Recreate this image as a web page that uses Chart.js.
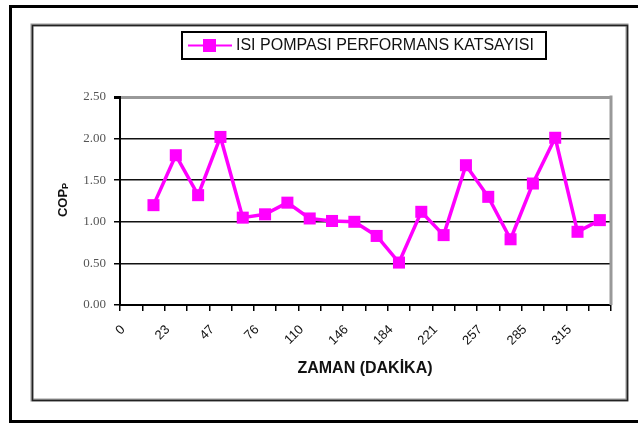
<!DOCTYPE html>
<html>
<head>
<meta charset="utf-8">
<script src="https://cdn.jsdelivr.net/npm/chart.js@4.4.0/dist/chart.umd.min.js"></script>
<style>
html, body { margin: 0; padding: 0; background: #fff; }
#wrap { width: 638px; height: 427px; position: relative; }
</style>
</head>
<body>
<div id="wrap"><canvas id="chart" width="638" height="427"></canvas></div>
<script>
// categories (minutes) - only every second one carries a label
var timeLabels = ["0", "", "23", "", "47", "", "76", "", "110", "", "146", "", "184", "", "221", "", "257", "", "285", "", "315", ""];
// COP values, first category has no measurement
var copValues = [null, 1.20, 1.80, 1.32, 2.02, 1.05, 1.09, 1.23, 1.04, 1.01, 1.00, 0.83, 0.51, 1.12, 0.84, 1.68, 1.30, 0.79, 1.46, 2.01, 0.88, 1.02];
var yMin = 0, yMax = 2.5, yStep = 0.5;

var seriesName = "ISI POMPASI PERFORMANS KATSAYISI";
var xTitle = "ZAMAN (DAKİKA)";
var yTitle = "COP";
var yTitleSub = "P";

var MAGENTA = "#ff00ff";
var SANS = "'Liberation Sans', Arial, sans-serif";
var SERIF = "'Liberation Serif', 'Times New Roman', serif";

// frame, legend and axis titles drawn around the chart area
var framePlugin = {
	id: "frame",
	beforeDraw: function (chart) {
		var ctx = chart.ctx;
		ctx.save();
		ctx.fillStyle = "#fff";
		ctx.fillRect(0, 0, chart.width, chart.height);
		// outer border (right side runs off the page)
		ctx.strokeStyle = "#000";
		ctx.lineWidth = 3;
		ctx.strokeRect(10.5, 6.5, 640, 415);
		// inner chart border (gray shadow + dark line)
		ctx.strokeStyle = "#999";
		ctx.lineWidth = 3;
		ctx.strokeRect(32, 25, 595, 375);
		ctx.strokeStyle = "#222";
		ctx.lineWidth = 1.5;
		ctx.strokeRect(32.5, 25.5, 595, 375);
		ctx.restore();
	},
	afterDatasetsDraw: function (chart) {
		var ctx = chart.ctx;
		var area = chart.chartArea;
		ctx.save();
		// right border of plot area
		ctx.strokeStyle = "#999";
		ctx.lineWidth = 3;
		ctx.beginPath();
		ctx.moveTo(area.right, area.top - 1.5);
		ctx.lineTo(area.right, area.bottom);
		ctx.stroke();

		// legend
		ctx.strokeStyle = "#000";
		ctx.lineWidth = 2;
		ctx.strokeRect(182, 32, 364, 27);
		ctx.strokeStyle = MAGENTA;
		ctx.lineWidth = 2;
		ctx.beginPath();
		ctx.moveTo(188, 45.5);
		ctx.lineTo(232, 45.5);
		ctx.stroke();
		ctx.fillStyle = MAGENTA;
		ctx.fillRect(203, 39, 13, 13);
		ctx.fillStyle = "#111";
		ctx.font = "16px " + SANS;
		ctx.textBaseline = "middle";
		ctx.textAlign = "left";
		ctx.fillText(seriesName, 236, 46, 306);

		// x title
		ctx.font = "bold 16px " + SANS;
		ctx.textAlign = "center";
		ctx.fillText(xTitle, 365, 369);

		// y title with subscript
		ctx.translate(63, 200);
		ctx.rotate(-Math.PI / 2);
		ctx.font = "bold 13px " + SANS;
		var w1 = ctx.measureText(yTitle).width;
		ctx.font = "bold 9px " + SANS;
		var w2 = ctx.measureText(yTitleSub).width;
		var start = -(w1 + w2) / 2;
		ctx.textAlign = "left";
		ctx.font = "bold 13px " + SANS;
		ctx.fillText(yTitle, start, 0);
		ctx.font = "bold 9px " + SANS;
		ctx.fillText(yTitleSub, start + w1, 3);
		ctx.restore();
	},
};

new Chart(document.getElementById("chart"), {
	type: "line",
	data: {
		labels: timeLabels,
		datasets: [
			{
				label: seriesName,
				data: copValues,
				borderColor: MAGENTA,
				backgroundColor: MAGENTA,
				borderWidth: 3.5,
				pointStyle: "rect",
				pointRadius: 8.5,
				pointBackgroundColor: MAGENTA,
				pointBorderWidth: 0,
				tension: 0,
				spanGaps: false,
				clip: false,
			},
		],
	},
	options: {
		responsive: false,
		animation: false,
		devicePixelRatio: 1,
		layout: { padding: { top: 97, right: 27, left: 0, bottom: 0 } },
		plugins: {
			legend: { display: false },
			tooltip: { enabled: false },
		},
		scales: {
			x: {
				type: "category",
				offset: true,
				grid: {
					offset: true,
					drawOnChartArea: false,
					drawTicks: true,
					tickLength: 6,
					color: "#000",
					lineWidth: 1.5,
				},
				border: { color: "#000", width: 2 },
				ticks: {
					autoSkip: false,
					minRotation: 45,
					maxRotation: 45,
					labelOffset: -8,
					padding: 11,
					color: "#111",
					font: { family: SANS, size: 13 },
				},
				afterFit: function (scale) {
					scale.height = 122;
				},
			},
			y: {
				min: yMin,
				max: yMax,
				ticks: {
					stepSize: yStep,
					padding: 8,
					color: "#555",
					font: { family: SERIF, size: 13 },
					callback: function (val) {
						return Number(val).toFixed(2);
					},
				},
				grid: {
					color: function (c) {
						return c.tick && c.tick.value === yMax ? "#999" : "#111";
					},
					lineWidth: function (c) {
						return c.tick && c.tick.value === yMax ? 3 : 1.5;
					},
					tickColor: "#000",
					tickLength: 6,
				},
				border: { color: "#000", width: 2 },
				afterFit: function (scale) {
					scale.width = 120;
				},
			},
		},
	},
	plugins: [framePlugin],
});
</script>
</body>
</html>
